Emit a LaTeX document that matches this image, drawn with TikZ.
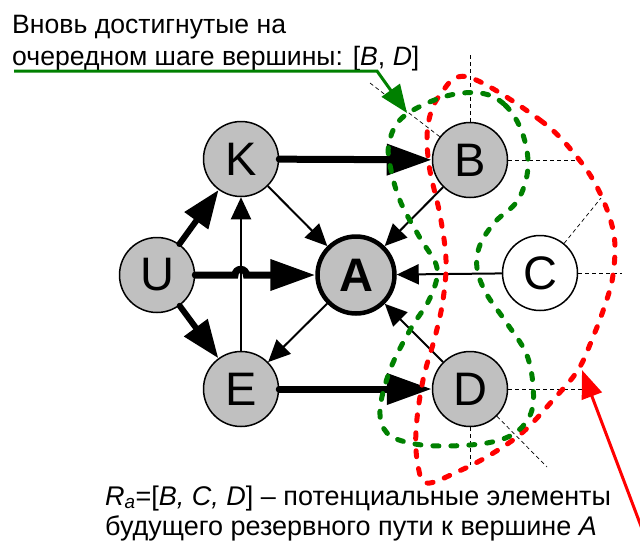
\documentclass[tikz,border=0pt]{standalone}
\usepackage{fontspec}
\setmainfont{Liberation Sans}
\usetikzlibrary{arrows.meta}
\definecolor{nodegray}{RGB}{192,192,192}
\definecolor{pathgreen}{RGB}{0,128,0}
\definecolor{pathred}{RGB}{255,0,0}
\begin{document}
\begin{tikzpicture}[x=1pt,y=-1pt,
  vtx/.style={circle,draw=black,line width=1.5pt,fill=nodegray,minimum size=75pt,inner sep=0pt,
    font=\fontsize{47}{47}\selectfont},
  goal/.style={vtx,line width=4.5pt,minimum size=77pt,font=\fontsize{47}{47}\selectfont\bfseries},
  heavy/.style={line width=7pt,line cap=round,-{Triangle[length=45pt,width=30pt]}},
  heavyshort/.style={line width=6pt,line cap=round,-{Triangle[length=38pt,width=28pt]}},
  light/.style={line width=2pt,-{Triangle[length=22pt,width=20pt]}},
  guide/.style={line width=0.7pt,dash pattern=on 4pt off 3pt},
  region/.style={line width=5pt,line cap=round,dash pattern=on 6pt off 12pt},
  label/.style={anchor=base west,inner sep=0pt,font=\fontsize{26.6}{26.6}\selectfont},
  note/.style={anchor=base west,inner sep=0pt,font=\fontsize{27}{27}\selectfont},
]
\useasboundingbox (0,0) rectangle (640,542);

% vertices
\node[vtx]  (K) at (241,159) {K};
\node[vtx]  (U) at (157,275) {U};
\node[goal] (A) at (356,275) {A};
\node[vtx]  (E) at (241,389) {E};
\node[vtx]  (B) at (470,160) {B};
\node[vtx,fill=white] (C) at (540,273) {C};
\node[vtx]  (D) at (470,389) {D};

% thin dashed guides around the frontier vertices
\coordinate (bt)  at (470,53);
\coordinate (br)  at (584,160);
\coordinate (bl)  at (370,83);
\coordinate (cr)  at (622,273);
\coordinate (cu)  at (601,198);
\coordinate (dr)  at (584,389);
\coordinate (dd)  at (470,465);
\coordinate (ddr) at (547,467);
\draw[guide] (B) -- (bt);
\draw[guide] (B) -- (br);
\draw[guide] (B) -- (bl);
\draw[guide] (C) -- (cr);
\draw[guide] (C) -- (cu);
\draw[guide] (D) -- (dr);
\draw[guide] (D) -- (dd);
\draw[guide] (D) -- (ddr);

% edges
\draw[light] (E) -- (K);
\draw[light] (K) -- (A);
\draw[light] (A) -- (E);
\draw[light] (B) -- (A);
\draw[light] (C) -- (A);
\draw[light] (D) -- (A);
\draw[heavy] (K) -- (B);
\draw[heavy] (E) -- (D);
\draw[heavyshort] (U) -- (K);
\draw[heavyshort] (U) -- (E);
\draw[heavy] (U) -- (235,275) arc[start angle=180,end angle=0,radius=5.7pt] -- (A);

% candidate region R_a
\draw[region,pathred] plot[smooth cycle,tension=0.6] coordinates {
  (468,77) (540,120) (577,157) (600,193) (614,235) (613,275) (605,305)
  (593,337) (578,370) (553,400) (523,432) (490,455) (457,472) (427,483)
  (418,466) (416,430) (423,380) (435,337) (443,300) (446,260) (440,215)
  (429,165) (428,125) (440,95)};

% newly reached vertices
\draw[region,pathgreen] plot[smooth cycle,tension=0.6] coordinates {
  (480,93) (505,105) (522,132) (528,167) (518,200) (495,222) (480,245)
  (477,268) (486,293) (506,322) (526,353) (533,385) (531,413) (515,433)
  (487,443) (443,446) (410,443) (387,433) (380,410) (390,370) (410,330)
  (430,298) (437,268) (420,238) (401,203) (391,170) (389,143) (403,117)
  (443,97)};

% captions
\node[label] (t1) at (12,33) {Вновь достигнутые на};
\node[label] (t2) at (12,65) {очередном шаге вершины: [\textit{B}, \textit{D}]};
\node[note] (b1) at (105,505) {\textit{R\textsubscript{a}}=[\textit{B, C, D}] – потенциальные элементы};
\node[note] (b2) at (105,535) {будущего резервного пути к вершине \textit{A}};

% pointer from the upper caption
\coordinate (ul0) at (14,71);
\coordinate (ul1) at (377,71);
\coordinate (gtip) at (407,113);
\draw[pathgreen,line width=3pt,-{Triangle[length=28pt,width=22pt]}] (ul0) -- (ul1) -- (gtip);

% pointer to the red region
\coordinate (rstart) at (647,542);
\coordinate (rtip) at (582,370);
\draw[pathred,line width=3pt,-{Triangle[length=28pt,width=21pt]}] (rstart) -- (rtip);
\end{tikzpicture}
\end{document}
